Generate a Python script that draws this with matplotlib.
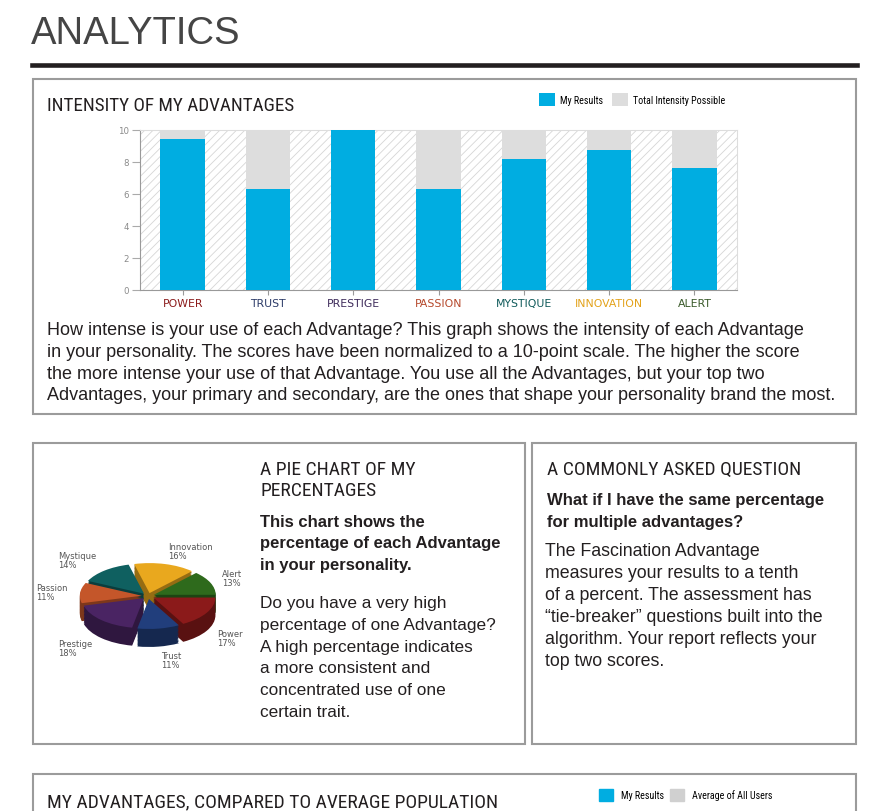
import numpy as np
import matplotlib
matplotlib.use('Agg')
import matplotlib.pyplot as plt
from matplotlib.patches import Rectangle, Patch
from matplotlib.lines import Line2D
from matplotlib.colors import to_rgb

W, H = 872, 812

# bar chart data (10-point scale)
advantages = ['POWER', 'TRUST', 'PRESTIGE', 'PASSION', 'MYSTIQUE', 'INNOVATION', 'ALERT']
my_results = [9.45, 6.3, 10.0, 6.3, 8.2, 8.75, 7.6]
total_possible = [10, 10, 10, 10, 10, 10, 10]
label_colors = ['#8b1a1a', '#2b3a67', '#3d2a5a', '#b5472a', '#0f5a5a', '#e3a21a', '#3a5a2a']

# pie data (percent)
pie_names = ['Power', 'Trust', 'Prestige', 'Passion', 'Mystique', 'Innovation', 'Alert']
pie_share = [17, 11, 18, 11, 14, 16, 13]
pie_colors = ['#8b1a1a', '#213e7c', '#4a2463', '#c4562a', '#0f6060', '#e9a81e', '#2e6a1c']

BODY = ['Liberation Sans', 'DejaVu Sans']
COND = ['Roboto Condensed', 'DejaVu Sans']
INK = '#231f20'

fig = plt.figure(figsize=(W / 100, H / 100), dpi=100)
fig.patch.set_facecolor('white')
plt.rcParams['hatch.linewidth'] = 0.6


def fx(px):
    return px / W


def fy(py):
    return 1 - py / H


def box(x0, y0, x1, y1):
    fig.add_artist(Rectangle((fx(x0), fy(y1)), fx(x1) - fx(x0), fy(y0) - fy(y1),
                             transform=fig.transFigure, fill=False,
                             ec='#9b9b9b', lw=1.5))


def para(x, y0, lines, pitch, **kw):
    for i, s in enumerate(lines):
        fig.text(fx(x), fy(y0 + i * pitch), s, va='baseline', ha='left', **kw)


# header
fig.text(fx(31), fy(44), 'ANALYTICS', fontsize=27.5, color='#454545',
         family=BODY, va='baseline')
fig.add_artist(Line2D([fx(32), fx(857)], [fy(65.5), fy(65.5)], lw=3.3,
                      color=INK, transform=fig.transFigure))

# panels
box(33, 80, 856, 415)
box(33, 444, 525, 745)
box(532, 444, 856, 745)
box(33, 775, 856, 840)

# ---- intensity bar chart
fig.text(fx(47), fy(111), 'INTENSITY OF MY ADVANTAGES', fontsize=13.8, color=INK,
         family=COND, va='baseline')

ax = fig.add_axes([fx(140), fy(291), fx(737) - fx(140), (291 - 131) / H])
ax.add_patch(Rectangle((0, 0), 1, 1, transform=ax.transAxes, facecolor='white',
                       edgecolor='#d6d6d6', hatch='////', lw=0, zorder=0))
x = np.arange(len(advantages))
gray = ax.bar(x, total_possible, width=0.52, color='#dddddd', zorder=2)
blue = ax.bar(x, my_results, width=0.52, color='#00ade1', zorder=3)
ax.set_xlim(-0.5, 6.5)
ax.set_ylim(0, 10)
ax.set_yticks(range(0, 11, 2))
ax.set_xticks(x, advantages)
ax.tick_params(axis='y', labelsize=6.2, labelcolor='#8a8a8a', color='#aaaaaa',
               length=6, width=0.8, pad=2)
ax.tick_params(axis='x', labelsize=7.8, color='#999999', length=3.5, width=0.8, pad=2)
for lbl, c in zip(ax.get_xticklabels(), label_colors):
    lbl.set_color(c)
for side in ['left', 'bottom']:
    ax.spines[side].set_color('#999999')
for side in ['top', 'right']:
    ax.spines[side].set_color('#dddddd')
ax.set_facecolor('white')

ax.legend([blue, gray], ['My Results', 'Total Intensity Possible'], loc='upper left',
          bbox_to_anchor=(fx(539), fy(94)), bbox_transform=fig.transFigure,
          ncol=2, frameon=False, prop={'family': COND, 'size': 7.2},
          handlelength=1.6, handleheight=1.6, handletextpad=0.5,
          columnspacing=0.9, borderpad=0, borderaxespad=0)

para(47, 335, ['How intense is your use of each Advantage? This graph shows the intensity of each Advantage',
               'in your personality. The scores have been normalized to a 10-point scale. The higher the score',
               'the more intense your use of that Advantage. You use all the Advantages, but your top two',
               'Advantages, your primary and secondary, are the ones that shape your personality brand the most.'],
     21.8, fontsize=13, color=INK, family=BODY)

# ---- pie chart (fake 3d: stacked darker layers under the top face)
pax = fig.add_axes([fx(20), fy(690), fx(276) - fx(20), (690 - 540) / H])
depth = 0.6
explode = [0.1] * len(pie_share)
side_colors = [tuple(v * 0.64 for v in to_rgb(c)) for c in pie_colors]
for off in np.linspace(-depth, 0, 14)[:-1]:
    pax.pie(pie_share, colors=side_colors, startangle=0, counterclock=False,
            explode=explode, center=(0, off), wedgeprops=dict(lw=0))
pax.pie(pie_share, colors=pie_colors, startangle=0, counterclock=False,
        explode=explode, center=(0, 0), wedgeprops=dict(lw=0))
pax.set_aspect('auto')
pax.set_xlim(-128 / 62, 128 / 62)
pax.set_ylim(-93 / 30, 57 / 30)
pax.axis('off')

cum = np.cumsum([0] + pie_share[:-1])
for name, share, start in zip(pie_names, pie_share, cum):
    ang = np.deg2rad(-(start + share / 2) * 3.6)
    c, s = np.cos(ang), np.sin(ang)
    ly = 1.55 * s - (depth if s < 0 else 0)
    pax.text(1.3 * c, ly, f'{name}\n{share}%', fontsize=6, color='#555555',
             ha='left' if c > 0 else 'right', va='center', multialignment='left',
             linespacing=1.0, family='DejaVu Sans')

para(260, 475, ['A PIE CHART OF MY', 'PERCENTAGES'], 21.5, fontsize=14, color=INK,
     family=COND)
para(260, 527, ['This chart shows the', 'percentage of each Advantage',
                'in your personality.'], 21.5, fontsize=12, color=INK,
     family=BODY, fontweight='bold')
para(260, 608, ['Do you have a very high', 'percentage of one Advantage?',
                'A high percentage indicates', 'a more consistent and',
                'concentrated use of one', 'certain trait.'], 21.8,
     fontsize=12.4, color=INK, family=BODY)

# ---- question panel
para(547, 475, ['A COMMONLY ASKED QUESTION'], 21, fontsize=14, color=INK, family=COND)
para(547, 505, ['What if I have the same percentage', 'for multiple advantages?'], 22,
     fontsize=12, color=INK, family=BODY, fontweight='bold')
para(545, 556, ['The Fascination Advantage', 'measures your results to a tenth',
                'of a percent. The assessment has',
                '\u201ctie-breaker\u201d questions built into the',
                'algorithm. Your report reflects your', 'top two scores.'], 22,
     fontsize=12.8, color=INK, family=BODY)

# ---- bottom section header
fig.text(fx(47), fy(807), 'MY ADVANTAGES, COMPARED TO AVERAGE POPULATION', fontsize=14,
         color=INK, family=COND, va='baseline')
fig.legend([Patch(color='#00ade1'), Patch(color='#d0d0d0')],
           ['My Results', 'Average of All Users'], loc='upper left',
           bbox_to_anchor=(fx(599), fy(790)), bbox_transform=fig.transFigure,
           ncol=2, frameon=False, prop={'family': COND, 'size': 7.2},
           handlelength=1.4, handleheight=1.5, handletextpad=0.8,
           columnspacing=0.6, borderpad=0, borderaxespad=0)

fig.savefig('out.png', dpi=100)
